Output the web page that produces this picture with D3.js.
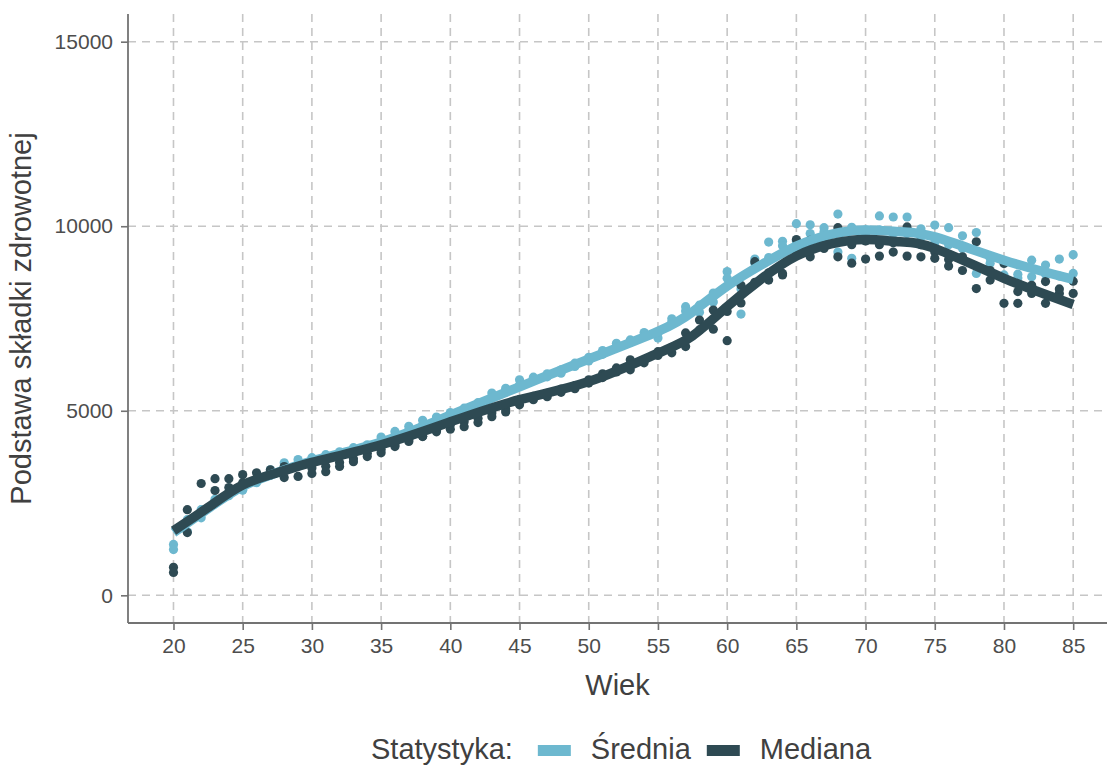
<!DOCTYPE html>
<html><head><meta charset="utf-8">
<script src="https://cdn.jsdelivr.net/npm/d3@7"></script>
<style>body{margin:0;background:#fff} text{font-family:"Liberation Sans",Arial,sans-serif}</style>
</head><body>
<svg id="chart" width="1107" height="767"></svg>
<script>
// ---- data ----
const ages = [20,21,22,23,24,25,26,27,28,29,30,31,32,33,34,35,36,37,38,39,40,41,42,43,44,45,46,47,48,49,50,51,52,53,54,55,56,57,58,59,60,61,62,63,64,65,66,67,68,69,70,71,72,73,74,75,76,77,78,79,80,81,82,83,84,85];
const meanA = [1380,2050,2320,2600,2800,2950,3150,3400,3590,3680,3730,3810,3890,4000,4080,4290,4440,4580,4740,4830,4950,5070,5220,5480,5610,5840,5910,6000,6110,6290,6450,6630,6830,6920,7120,7100,7490,7820,7860,8190,8770,8300,9110,9570,9590,10070,10040,9960,10330,9970,9900,10280,10250,10250,9930,10030,9960,9740,9830,9130,8680,8700,9080,8950,9110,9230];
const meanB = [1240,1720,2100,2500,2700,2850,3050,3300,3450,3550,3620,3700,3800,3920,4000,4180,4330,4470,4620,4720,4850,4980,5100,5350,5500,5700,5820,5920,6020,6200,6350,6530,6720,6850,7010,6970,7400,7700,7670,7950,8590,7620,9000,9150,9470,9600,9800,9850,9300,9130,9800,9900,9800,9800,9700,9550,9500,9400,8720,9000,9050,8600,8630,8700,8650,8720];
const medianA = [760,2320,3030,3160,3160,3270,3320,3400,3490,3500,3450,3500,3600,3700,3850,3950,4080,4220,4310,4470,4620,4700,4800,4940,5050,5300,5390,5470,5590,5680,5840,6000,6160,6380,6380,6600,6720,7110,7460,7730,7690,8400,9040,8740,8720,9640,9620,9600,9960,9500,9600,9500,9550,9980,9500,9300,9100,9170,9580,8800,8990,8230,8180,8500,8180,8510];
const medianB = [620,1700,2240,2840,2920,3050,3150,3250,3190,3220,3300,3350,3490,3620,3760,3860,4030,4170,4300,4430,4500,4570,4680,4840,4970,5160,5300,5380,5500,5600,5750,5900,6050,6110,6300,6500,6570,6740,7190,7210,6900,7920,8480,8540,8680,9300,9170,9400,9170,9000,9110,9190,9300,9190,9170,9130,8920,8800,8310,8540,7910,7910,8400,7910,8300,8180];
const smoothAges   = [20,22.5,25,27.5,30,35,40,45,50,55,57.5,60,62.5,65,67.5,70,72.5,75,80,85];
const meanSmooth   = [1700,2350,2950,3330,3640,4150,4880,5650,6400,7150,7680,8380,8960,9460,9780,9900,9850,9710,9080,8560];
const medianSmooth = [1750,2380,2990,3320,3600,4080,4700,5300,5790,6560,7030,7820,8580,9190,9520,9640,9580,9400,8590,7880];
const xTicks = [20,25,30,35,40,45,50,55,60,65,70,75,80,85];
const yTicks = [0,5000,10000,15000];
const seriesNames = ["Średnia","Mediana"];
const seriesColors = ["#6DB8CF","#2E4A53"];

// ---- layout ----
const W = 1107, H = 767;
const panel = {left:128, right:1107, top:14, bottom:623};
const svg = d3.select("#chart");
const x = d3.scaleLinear().domain([16.75, 86.25]).range([128.5, 1090.5]);
const y = d3.scaleLinear().domain([-750, 15750]).range([panel.bottom, panel.top]);

// grid
const grid = svg.append("g").attr("stroke","#c6c6c6").attr("stroke-width",1.6).attr("stroke-dasharray","8,6");
grid.selectAll(".gx").data(xTicks).join("line")
  .attr("x1",d=>x(d)).attr("x2",d=>x(d)).attr("y1",panel.top).attr("y2",panel.bottom);
grid.selectAll(".gy").data(yTicks).join("line")
  .attr("y1",d=>y(d)).attr("y2",d=>y(d)).attr("x1",panel.left).attr("x2",panel.right);

// points
const pts = [
  {vals:meanA, c:seriesColors[0]}, {vals:meanB, c:seriesColors[0]},
  {vals:medianA, c:seriesColors[1]}, {vals:medianB, c:seriesColors[1]}
];
pts.forEach(s=>{
  svg.append("g").selectAll("circle").data(ages).join("circle")
    .attr("cx",(d)=>x(d)).attr("cy",(d,i)=>y(s.vals[i])).attr("r",4.6).attr("fill",s.c);
});

// smooth lines
const line = d3.line().x(d=>x(d[0])).y(d=>y(d[1])).curve(d3.curveNatural);
[meanSmooth, medianSmooth].forEach((vals,k)=>{
  svg.append("path").datum(smoothAges.map((a,i)=>[a,vals[i]]))
    .attr("d",line).attr("fill","none").attr("stroke",seriesColors[k])
    .attr("stroke-width",9.5).attr("stroke-linecap","butt").attr("stroke-linejoin","round");
});

// axes
const axCol = "#737373";
const xAxis = svg.append("g").attr("transform",`translate(0,${panel.bottom})`)
  .call(d3.axisBottom(x).tickValues(xTicks).tickSize(7).tickPadding(8).tickFormat(d3.format("d")));
xAxis.select(".domain").remove();
xAxis.append("line").attr("x1",panel.left).attr("x2",panel.right).attr("stroke",axCol).attr("stroke-width",1.8);
const yAxis = svg.append("g").attr("transform",`translate(${panel.left},0)`)
  .call(d3.axisLeft(y).tickValues(yTicks).tickSize(7).tickPadding(8).tickFormat(d3.format("d")));
yAxis.select(".domain").remove();
yAxis.append("line").attr("y1",panel.top).attr("y2",panel.bottom).attr("stroke",axCol).attr("stroke-width",1.8);
svg.selectAll(".tick line").attr("stroke",axCol).attr("stroke-width",1.6);
svg.selectAll(".tick text").attr("fill","#4d4d4d").style("font-size","21px").style("font-family","'Liberation Sans',Arial,sans-serif");

// titles
svg.append("text").attr("x",(panel.left+panel.right)/2).attr("y",695).attr("text-anchor","middle")
  .attr("fill","#404040").style("font-size","29px").text("Wiek");
svg.append("text").attr("transform",`translate(31,${(panel.top+panel.bottom)/2}) rotate(-90)`)
  .attr("text-anchor","middle").attr("fill","#404040").style("font-size","29px").text("Podstawa składki zdrowotnej");

// legend
const lg = svg.append("g");
const fs = "29px";
const ly = 759;
const t0 = lg.append("text").attr("x",0).attr("y",ly).attr("fill","#404040").style("font-size",fs).text("Statystyka:");
let cx = t0.node().getComputedTextLength() + 25;
seriesNames.forEach((n,k)=>{
  lg.append("rect").attr("x",cx).attr("y",745).attr("width",33).attr("height",11).attr("fill",seriesColors[k]);
  cx += 33 + 20;
  const t = lg.append("text").attr("x",cx).attr("y",ly).attr("fill","#404040").style("font-size",fs).text(n);
  cx += t.node().getComputedTextLength() + (k===0?16:0);
});
lg.attr("transform",`translate(${371},0)`);
</script>
</body></html>
